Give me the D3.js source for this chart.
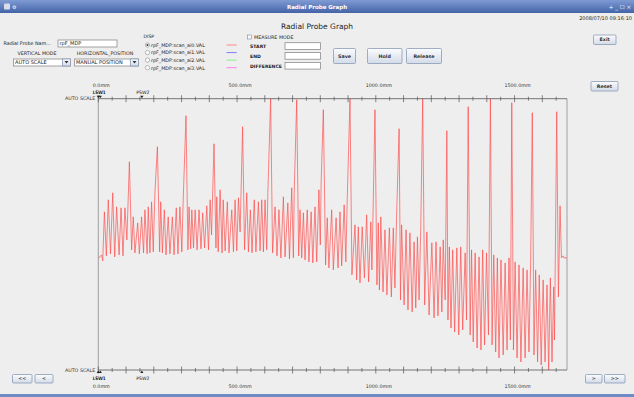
<!DOCTYPE html>
<html>
<head>
<meta charset="utf-8">
<script src="https://cdn.jsdelivr.net/npm/d3@7"></script>
<style>
  html, body { margin: 0; padding: 0; background: #eeeeee; }
  svg { display: block; font-family: "DejaVu Sans", sans-serif; }
</style>
</head>
<body>
<svg id="win" width="634" height="397"></svg>
<script>
// probe trace: position along the probe (mm) and raw value
const positionMm = [0,6,12,16,
  22,29,36,44,52,59,66,75,82,89,96,103,112,
  120,126,132,142,148,156,163,168,176,180,186,192,198,204,213,
  221,225,231,238,244,252,258,267,273,281,287,294,301,306,316,
  323,327,333,337,343,349,356,363,370,376,383,391,397,403,408,417,
  424,427,432,439,446,450,457,465,471,481,487,493,499,505,511,520,
  527,535,541,548,554,562,568,577,583,589,595,601,607,611,621,
  628,637,644,651,658,667,673,683,689,697,703,706,715,
  722,727,733,739,745,753,759,767,773,781,787,795,800,803,811,
  819,825,831,841,847,857,864,871,877,886,892,897,907,
  914,925,931,937,943,951,959,967,974,982,986,991,997,
  1004,1009,1013,1018,1026,1033,1040,1049,1056,1063,1069,1075,1084,
  1089,1093,1102,1109,1116,1123,1131,1138,1144,1150,1156,1162,1169,
  1176,1184,1192,1202,1210,1217,1224,1232,1238,1243,1250,1256,
  1260,1265,1271,1277,1284,1292,1299,1306,1313,1322,1327,1333,
  1340,1345,1351,1358,1365,1372,1379,1385,1392,1399,1406,1413,
  1419,1425,1432,1438,1444,1451,1459,1466,1473,1480,1485,1490,
  1496,1502,1509,1516,1523,1531,1538,1545,1552,1558,1564,
  1570,1576,1583,1589,1596,1603,1610,1617,1623,1629,1635,1641,1644,1652,
  1658,1664,1669,1675,1678,1689];

const probeValue = [112,113,115,109,
  158,114,170,116,177,113,163,115,162,114,162,130,208,
  120,153,117,147,116,153,117,160,116,163,117,168,118,177,223,
  118,168,117,160,115,153,116,153,115,162,116,163,118,170,254,
  120,163,121,160,122,160,120,160,121,157,122,164,120,170,135,226,
  122,173,118,180,117,170,119,168,117,160,118,170,119,172,138,243,
  120,177,118,160,117,170,118,168,119,170,118,170,120,177,271,
  117,163,114,160,112,173,113,167,111,182,112,177,270,
  114,160,112,157,110,160,108,158,107,163,108,180,125,187,260,
  105,152,102,160,100,152,102,158,104,165,108,170,271,
  95,145,90,143,87,143,92,155,88,148,100,170,260,
  85,147,80,153,78,140,75,142,73,142,82,155,241,
  70,145,65,140,60,137,58,128,62,133,70,142,271,
  65,138,55,127,52,128,54,123,58,130,70,239,
  50,123,42,120,38,122,35,123,40,117,50,263,
  35,120,28,117,22,113,20,120,25,117,35,271,
  25,115,18,112,12,110,15,107,20,112,30,267,
  20,108,12,105,8,102,12,100,18,108,257,
  15,100,8,95,5,90,8,85,0,92,8,83,30,258,
  73,164,112,114,112,112];

const axisLabelMm = [0, 500, 1000, 1500];
const markerNames = ['LSW1', 'LEW1', 'PSW2'];
const markerMm = [0, 0, 157];
const dispChannels = ['rpF_MDP:scan_ai0.VAL', 'rpF_MDP:scan_ai1.VAL', 'rpF_MDP:scan_ai2.VAL', 'rpF_MDP:scan_ai3.VAL'];
const dispColors = ['#ff7c7c', '#7070ff', '#80ee80', '#ff70f0'];
const measureLabels = ['START', 'END', 'DIFFERENCE'];

const svg = d3.select('#win');

// gradients
const defs = svg.append('defs');
const tb = defs.append('linearGradient').attr('id', 'titlebar').attr('x1', 0).attr('y1', 0).attr('x2', 0).attr('y2', 1);
tb.append('stop').attr('offset', 0).attr('stop-color', '#7f9bd4');
tb.append('stop').attr('offset', 1).attr('stop-color', '#4464a8');
const bg = defs.append('linearGradient').attr('id', 'btn').attr('x1', 0).attr('y1', 0).attr('x2', 0).attr('y2', 1);
bg.append('stop').attr('offset', 0).attr('stop-color', '#fbfcfe');
bg.append('stop').attr('offset', 1).attr('stop-color', '#d3dbe8');

svg.append('rect').attr('width', 634).attr('height', 397).attr('fill', '#eeeeee');

// window title bar
svg.append('rect').attr('x', 0).attr('y', 0).attr('width', 634).attr('height', 13).attr('fill', 'url(#titlebar)');
svg.append('text').attr('x', 317).attr('y', 9).attr('text-anchor', 'middle')
  .style('font-size', '5.5px').style('font-weight', 'bold').attr('fill', '#fff').text('Radial Probe Graph');
svg.append('rect').attr('x', 4).attr('y', 3.5).attr('width', 6).attr('height', 6).attr('rx', 1).attr('fill', '#d8dde8');
svg.append('text').attr('x', 12).attr('y', 9).style('font-size', '5px').attr('fill', '#fff').text('⚙');
svg.append('text').attr('x', 631).attr('y', 9).attr('text-anchor', 'end')
  .style('font-size', '5.5px').attr('fill', '#fff').text('+  _  ☐  ×');
svg.append('rect').attr('x', 0).attr('y', 394).attr('width', 634).attr('height', 3).attr('fill', '#6d8cc6');

// header
svg.append('text').attr('x', 632).attr('y', 20).attr('text-anchor', 'end')
  .style('font-size', '5px').attr('fill', '#222').text('2008/07/10 09:16:10');
svg.append('text').attr('x', 317).attr('y', 29).attr('text-anchor', 'middle')
  .style('font-size', '7.5px').attr('fill', '#222').text('Radial Probe Graph');

function label(x, y, t, size, anchor) {
  return svg.append('text').attr('x', x).attr('y', y).attr('text-anchor', anchor || 'start')
    .style('font-size', (size || 5) + 'px').attr('fill', '#222').text(t);
}
function field(x, y, w, h, t) {
  svg.append('rect').attr('x', x + 0.5).attr('y', y + 0.5).attr('width', w).attr('height', h)
    .attr('fill', '#fff').attr('stroke', '#8d8d8d').attr('stroke-width', 0.8);
  if (t) label(x + 2, y + h - 2, t, 5);
}
function button(x, y, w, h, t) {
  svg.append('rect').attr('x', x + 0.5).attr('y', y + 0.5).attr('width', w).attr('height', h).attr('rx', 1)
    .attr('fill', 'url(#btn)').attr('stroke', '#8a9ab6').attr('stroke-width', 0.8);
  svg.append('text').attr('x', x + w / 2 + 0.5).attr('y', y + h / 2 + 2.2).attr('text-anchor', 'middle')
    .style('font-size', '4.8px').style('font-weight', 'bold').attr('fill', '#333').text(t);
}
function combo(x, y, w, h, t) {
  field(x, y, w, h, t);
  const bx = x + w - 8;
  svg.append('rect').attr('x', bx + 0.5).attr('y', y + 0.5).attr('width', 8).attr('height', h)
    .attr('fill', 'url(#btn)').attr('stroke', '#8a9ab6').attr('stroke-width', 0.8);
  svg.append('path').attr('d', `M${bx + 2.5},${y + 2.5}h4l-2,2.5z`).attr('fill', '#333');
}

// left controls
label(3.5, 45, 'Radial Probe Nam...', 4.8);
field(57.5, 39.5, 59, 7, 'rpF_MDP');
label(37, 54.5, 'VERTICAL MODE', 4.8, 'middle');
label(105, 54.5, 'HORIZONTAL_POSITION', 4.8, 'middle');
combo(13, 58.5, 57, 7, 'AUTO SCALE');
combo(74, 58.5, 64, 7, 'MANUAL POSITION');

// DISP radios with legend strokes
label(143.5, 38, 'DISP', 4.6);
const dispY = d3.scalePoint().domain(dispChannels).range([45, 67.7]);
const radio = svg.append('g').selectAll('g').data(dispChannels).join('g')
  .attr('transform', d => `translate(0,${dispY(d)})`);
radio.append('circle').attr('cx', 147.5).attr('cy', 0).attr('r', 2.2)
  .attr('fill', '#fafafa').attr('stroke', '#8e8e8e').attr('stroke-width', 0.6);
radio.filter((d, i) => i === 0).append('circle').attr('cx', 147.5).attr('cy', 0).attr('r', 1).attr('fill', '#333');
radio.append('text').attr('x', 151).attr('y', 1.8).style('font-size', '4.8px').attr('fill', '#222').text(d => d);
radio.append('line').attr('x1', 226.5).attr('x2', 236.7).attr('y1', 0).attr('y2', 0)
  .attr('stroke', (d, i) => dispColors[i]).attr('stroke-width', 0.9);

// measure mode
svg.append('rect').attr('x', 247.5).attr('y', 35).attr('width', 4).attr('height', 4)
  .attr('fill', '#fafafa').attr('stroke', '#7f8aa0').attr('stroke-width', 0.6);
label(254, 39, 'MEASURE MODE', 4.8);
const measY = d3.scalePoint().domain(measureLabels).range([46, 65.7]);
measureLabels.forEach(m => {
  label(250, measY(m) + 1.8, m, 4.6).style('font-weight', 'bold');
  field(284.5, measY(m) - 3.8, 35.5, 6.7);
});

button(333, 48, 22, 15, 'Save');
button(367, 48, 34.5, 15, 'Hold');
button(406, 48, 35, 15, 'Release');
button(593, 34.5, 22.5, 9.5, 'Exit');
button(590.5, 81, 27, 9.5, 'Reset');
button(12, 374, 19.5, 8.5, '<<');
button(34.5, 374, 18, 8.5, '<');
button(585, 374, 16.5, 8.5, '>');
button(604, 374, 20.5, 8.5, '>>');

// graph
const plot = { left: 98.3, right: 567, top: 98.7, bottom: 370 };
const x = d3.scaleLinear().domain([0, 1689]).range([plot.left, plot.right]);
const y = d3.scaleLinear().domain(d3.extent(probeValue)).range([plot.bottom, plot.top]);

const frame = svg.append('g').attr('stroke', '#8a8a8a').attr('stroke-width', 0.8);
frame.append('line').attr('x1', plot.left).attr('x2', plot.left).attr('y1', plot.top).attr('y2', plot.bottom);
frame.append('line').attr('x1', plot.right).attr('x2', plot.right).attr('y1', plot.top).attr('y2', plot.bottom);

const trace = d3.zip(positionMm, probeValue);
svg.append('path').datum(trace)
  .attr('fill', 'none').attr('stroke', '#ff4a4a').attr('stroke-width', 0.85).attr('stroke-opacity', 0.8)
  .attr('stroke-linejoin', 'bevel')
  .attr('d', d3.line().x(d => x(d[0])).y(d => y(d[1])));

function rangeAxis(yPos, labelY, above) {
  const g = svg.append('g');
  g.append('line').attr('x1', plot.left).attr('x2', plot.right).attr('y1', yPos).attr('y2', yPos)
    .attr('stroke', '#555').attr('stroke-width', 0.8);
  const majors = x.ticks(17).filter(v => v % 100 === 0);
  const minors = d3.range(50, 1689, 100);
  g.selectAll('line.maj').data(majors).join('line').attr('class', 'maj')
    .attr('x1', d => x(d)).attr('x2', d => x(d)).attr('y1', yPos - 3.5).attr('y2', yPos + 3.5)
    .attr('stroke', '#555').attr('stroke-width', 0.7);
  g.selectAll('line.min').data(minors).join('line').attr('class', 'min')
    .attr('x1', d => x(d)).attr('x2', d => x(d)).attr('y1', yPos - 2).attr('y2', yPos + 2)
    .attr('stroke', '#555').attr('stroke-width', 0.7);
  g.selectAll('text.lab').data(axisLabelMm).join('text').attr('class', 'lab')
    .attr('x', d => x(d) + 3).attr('y', labelY).attr('text-anchor', 'middle')
    .style('font-size', '4.8px').attr('fill', '#333').text(d => d3.format('.1f')(d) + 'mm');
  g.append('text').attr('x', plot.left - 3).attr('y', yPos + 1.7).attr('text-anchor', 'end')
    .style('font-size', '4.8px').attr('fill', '#333').text('AUTO SCALE');
  // limit switch markers
  markerMm.forEach((m, i) => {
    const dx = i === 1 ? 2 : 0;
    const mx = x(m) + dx;
    const tri = above
      ? `M${mx - 1.6},${yPos - 3}h3.2l-1.6,2.6z`
      : `M${mx - 1.6},${yPos + 3}h3.2l-1.6,-2.6z`;
    g.append('path').attr('d', tri).attr('fill', '#222');
    g.append('text').attr('x', x(m) + 1).attr('y', above ? yPos - 5 : yPos + 9.5).attr('text-anchor', 'middle')
      .style('font-size', '4.6px').attr('fill', '#222').text(markerNames[i]);
  });
}
rangeAxis(plot.top, 87, true);
rangeAxis(plot.bottom, 387.5, false);
</script>
</body>
</html>
